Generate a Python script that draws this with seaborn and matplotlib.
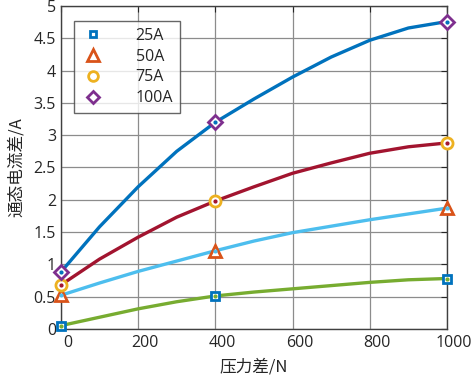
import numpy as np
import pandas as pd
import matplotlib
matplotlib.use("Agg")
import matplotlib.pyplot as plt
import matplotlib.transforms as mtrans
import seaborn as sns
from matplotlib.lines import Line2D

x_vals = [0, 100, 200, 300, 400, 500, 600, 700, 800, 900, 1000]
i25 = [0.05, 0.18, 0.31, 0.42, 0.51, 0.57, 0.62, 0.67, 0.72, 0.76, 0.78]
i50 = [0.52, 0.71, 0.89, 1.05, 1.21, 1.36, 1.49, 1.59, 1.69, 1.78, 1.87]
i75 = [0.68, 1.08, 1.42, 1.73, 1.98, 2.20, 2.41, 2.57, 2.72, 2.82, 2.88]
i100 = [0.88, 1.58, 2.20, 2.75, 3.20, 3.56, 3.90, 4.21, 4.47, 4.66, 4.76]
labels = ['25A', '50A', '75A', '100A']
mark_x = [0, 400, 1000]
xticks = [0, 200, 400, 600, 800, 1000]

line_colors = ['#77AC30', '#4DBEEE', '#A2142F', '#0072BD']
mark_colors = ['#0072BD', '#D95319', '#EDB120', '#7E2F8E']
mark_shapes = ['s', '^', 'o', 'D']
mark_sizes = [6, 9, 8, 7]

series = [i25, i50, i75, i100]
df = pd.DataFrame({
    'x': x_vals * 4,
    'y': i25 + i50 + i75 + i100,
    'lab': [l for l in labels for _ in x_vals],
})

sns.set_style('white')
plt.rcParams['font.family'] = ['Open Sans', 'Noto Sans CJK SC', 'DejaVu Sans']

fig = plt.figure(figsize=(4.72, 3.78), dpi=100)
ax = fig.add_axes([0.129, 0.130, 0.818, 0.854])

sns.lineplot(data=df, x='x', y='y', hue='lab', palette=line_colors,
             linewidth=2.4, legend=False, ax=ax, zorder=2)

for k, s in enumerate(series):
    sel = df[(df['lab'] == labels[k]) & (df['x'].isin(mark_x))]
    ax.plot(sel['x'], sel['y'], linestyle='none', marker=mark_shapes[k],
            markersize=mark_sizes[k], markerfacecolor='white',
            markeredgecolor=mark_colors[k], markeredgewidth=2.0, zorder=3,
            clip_on=False)
    ax.plot(sel['x'], sel['y'], linestyle='none', marker='o', markersize=2,
            color=line_colors[k], zorder=4, clip_on=False)

ax.set_xlim(0, 1000)
ax.set_ylim(0, 5)
ax.set_xticks(xticks)
ax.set_xticklabels([])
ax.set_yticks(np.arange(0, 5.01, 0.5))
ax.set_yticklabels(['0', '0.5', '1', '1.5', '2', '2.5', '3', '3.5', '4', '4.5', '5'])
ax.grid(True, color='#8c8c8c', linewidth=0.9)
ax.tick_params(axis='both', labelsize=11.5, colors='#262626', direction='in',
               length=4, width=0.8, top=True, right=True)
# x tick labels in the reference sit a little right of their grid lines
trans = ax.get_xaxis_transform() + mtrans.ScaledTranslation(7 / 100, -6 / 100, fig.dpi_scale_trans)
for xv in xticks:
    ax.text(xv, 0, str(xv), transform=trans, ha='center', va='top',
            fontsize=11.5, color='#262626')
for sp in ax.spines.values():
    sp.set_color('#404040')
    sp.set_linewidth(1.0)

ax.set_xlabel('压力差/N', fontsize=12, color='#262626', labelpad=18,
              family=['Noto Sans CJK SC', 'DejaVu Sans'])
ax.set_ylabel('通态电流差/A', fontsize=12, color='#262626', labelpad=6,
              family=['Noto Sans CJK SC', 'DejaVu Sans'])

handles = [Line2D([], [], linestyle='none', marker=mark_shapes[k],
                  markersize=mark_sizes[k] - 1, markerfacecolor='white',
                  markeredgecolor=mark_colors[k], markeredgewidth=2.0)
           for k in range(4)]
leg = ax.legend(handles, labels, loc='upper left', bbox_to_anchor=(0.034, 0.955),
                fontsize=11.5, frameon=True, fancybox=False, edgecolor='#404040',
                handletextpad=1.9, labelspacing=0.3, borderpad=0.45,
                handlelength=1.5, borderaxespad=0)
leg.get_frame().set_linewidth(1.0)
for t in leg.get_texts():
    t.set_color('#262626')

fig.savefig('out.png', dpi=100, facecolor='white')
